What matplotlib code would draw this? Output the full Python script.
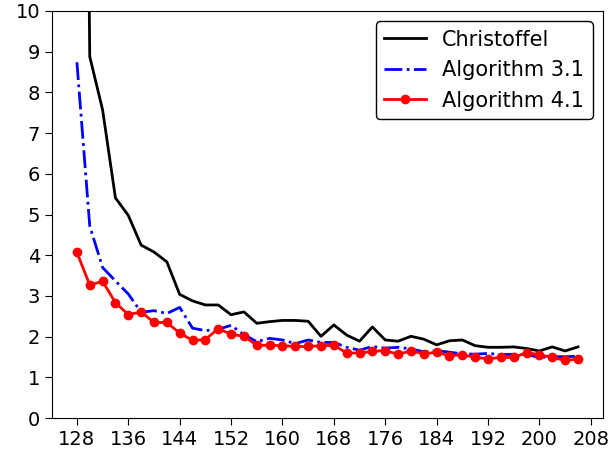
import matplotlib
matplotlib.use("Agg")
import numpy as np
import matplotlib.pyplot as plt

# sample sizes (x axis)
n = list(range(128, 208, 2))

christoffel = [40.0, 8.88, 7.57, 5.41, 4.98, 4.25, 4.08, 3.84, 3.04, 2.88,
               2.78, 2.78, 2.54, 2.61, 2.33, 2.37, 2.40, 2.40, 2.38, 2.01,
               2.29, 2.04, 1.89, 2.24, 1.92, 1.89, 2.01, 1.94, 1.80, 1.90,
               1.92, 1.78, 1.74, 1.74, 1.75, 1.71, 1.65, 1.75, 1.65, 1.75]
alg31 = [8.74, 4.72, 3.70, 3.37, 3.05, 2.60, 2.64, 2.57, 2.72, 2.21,
         2.15, 2.18, 2.28, 2.05, 1.88, 1.96, 1.92, 1.83, 1.92, 1.86,
         1.86, 1.74, 1.67, 1.76, 1.72, 1.74, 1.70, 1.63, 1.66, 1.62,
         1.58, 1.57, 1.59, 1.56, 1.57, 1.56, 1.49, 1.51, 1.51, 1.52]
alg41 = [4.07, 3.27, 3.36, 2.84, 2.54, 2.61, 2.35, 2.35, 2.09, 1.91,
         1.93, 2.20, 2.06, 2.01, 1.79, 1.79, 1.78, 1.76, 1.76, 1.78,
         1.79, 1.60, 1.60, 1.64, 1.66, 1.57, 1.65, 1.58, 1.62, 1.53,
         1.56, 1.49, 1.46, 1.49, 1.49, 1.61, 1.56, 1.49, 1.42, 1.45]

plt.rcParams["font.size"] = 14
plt.rcParams["xtick.major.size"] = 5
plt.rcParams["ytick.major.size"] = 5

fig = plt.figure(figsize=(6.1, 4.57), dpi=100)
ax = fig.add_subplot(1, 1, 1)
fig.subplots_adjust(left=0.085, right=0.9885, top=0.976, bottom=0.085)

ax.plot(n, christoffel, "k-", lw=2, label="Christoffel")
ax.plot(n, alg31, "b-.", lw=2, label="Algorithm 3.1")
ax.plot(n, alg41, "r-", lw=2, marker="o", markersize=6, label="Algorithm 4.1")

ax.set_ylim(0, 10)
ax.set_xticks(np.arange(128, 209, 8))
ax.set_yticks(range(0, 11))
ax.legend(loc="upper right", edgecolor="black", framealpha=1, fontsize=15)

fig.savefig("out.png", dpi=100)
